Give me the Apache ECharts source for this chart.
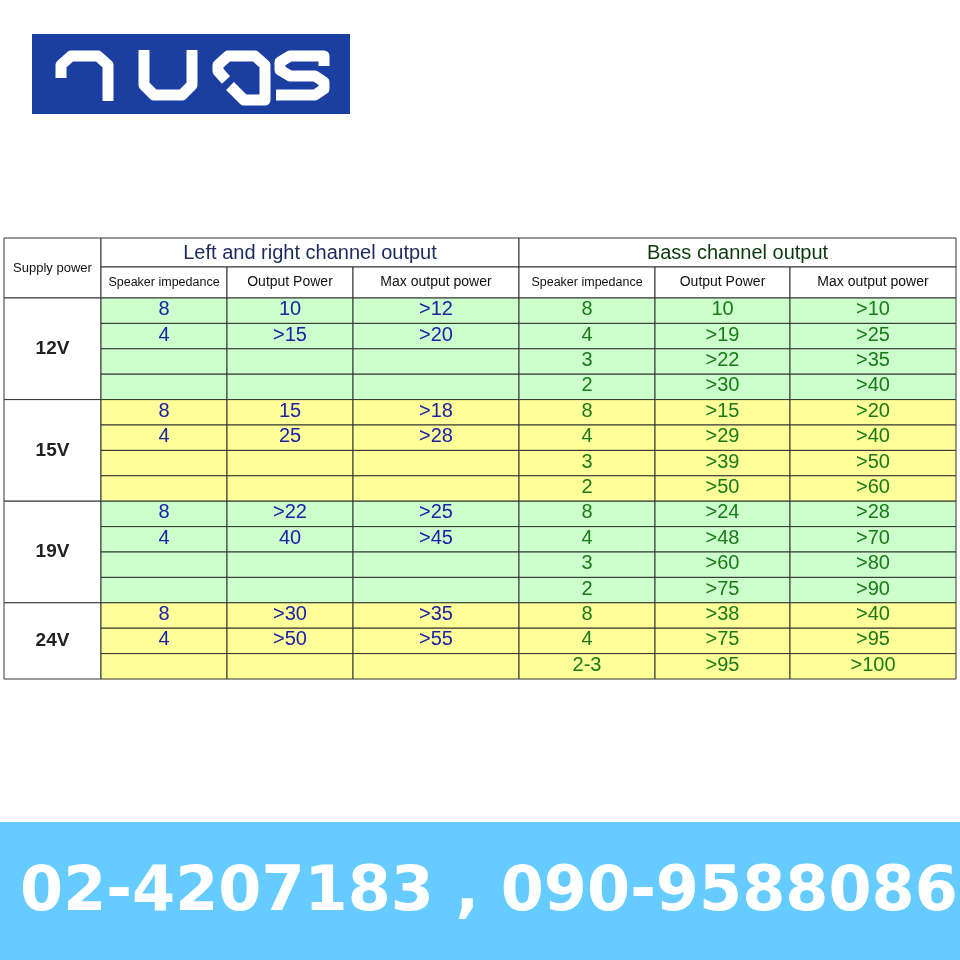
<!DOCTYPE html>
<html><head><meta charset="utf-8">
<script src="https://cdn.jsdelivr.net/npm/echarts@6/dist/echarts.min.js"></script>
<style>html,body{margin:0;padding:0;background:#fff}#c{width:960px;height:960px}</style>
</head><body><div id="c"></div>
<script>
var voltages = ['12V','15V','19V','24V'];
var groupRows = [4,4,4,3];
var lrImp = ['8','4','','', '8','4','','', '8','4','','', '8','4',''];
var lrOut = ['10','>15','','', '15','25','','', '>22','40','','', '>30','>50',''];
var lrMax = ['>12','>20','','', '>18','>28','','', '>25','>45','','', '>35','>55',''];
var bassImp = ['8','4','3','2', '8','4','3','2', '8','4','3','2', '8','4','2-3'];
var bassOut = ['10','>19','>22','>30', '>15','>29','>39','>50', '>24','>48','>60','>75', '>38','>75','>95'];
var bassMax = ['>10','>25','>35','>40', '>20','>40','>50','>60', '>28','>70','>80','>90', '>40','>95','>100'];
var subHeaders = ['Speaker impedance','Output Power','Max output power','Speaker impedance','Output Power','Max output power'];
var groupHeaders = ['Left and right channel output','Bass channel output'];
var phone = '02-4207183 , 090-9588086';

var colX = [4,101,227,353,519,655,790,956];
var yTop = 238, ySub = 267, yData = 298, rowH = 25.4;
var fills = ['#ccffcc','#ffff99'];
var g = [];
var ff = 'Liberation Sans, Arial, sans-serif';
function rect(x,y,w,h,fill){g.push({type:'rect',shape:{x:x,y:y,width:w,height:h},style:{fill:fill,stroke:'#333',lineWidth:1}});}
function txt(x,y,s,size,color,weight){g.push({type:'text',x:x,y:y,style:{text:s,font:(weight||'normal')+' '+size+'px '+ff,fill:color,align:'center',verticalAlign:'middle'}});}
rect(colX[0],yTop,colX[1]-colX[0],yData-yTop,'#fff');
txt((colX[0]+colX[1])/2,(yTop+yData)/2,'Supply power',13,'#111');
rect(colX[1],yTop,colX[4]-colX[1],ySub-yTop,'#fff');
rect(colX[4],yTop,colX[7]-colX[4],ySub-yTop,'#fff');
txt((colX[1]+colX[4])/2,(yTop+ySub)/2+1,groupHeaders[0],20,'#1a2a5a');
txt((colX[4]+colX[7])/2,(yTop+ySub)/2+1,groupHeaders[1],20,'#0a3a0a');
for(var i=0;i<6;i++){rect(colX[i+1],ySub,colX[i+2]-colX[i+1],yData-ySub,'#fff');txt((colX[i+1]+colX[i+2])/2,(ySub+yData)/2,subHeaders[i],i%3==0?12.5:14,'#111');}
var cols=[lrImp,lrOut,lrMax,bassImp,bassOut,bassMax];
var r=0;
for(var v=0;v<voltages.length;v++){
  var y0=yData+r*rowH, n=groupRows[v];
  rect(colX[0],y0,colX[1]-colX[0],n*rowH,'#fff');
  txt((colX[0]+colX[1])/2,y0+n*rowH/2,voltages[v],19,'#222','bold');
  for(var k=0;k<n;k++){
    var y=y0+k*rowH;
    for(var c=0;c<6;c++){
      rect(colX[c+1],y,colX[c+2]-colX[c+1],rowH,fills[v%2]);
      var val=cols[c][r+k];
      if(val) txt((colX[c+1]+colX[c+2])/2,y+rowH/2-1,val,20,c<3?'#1a22aa':'#1a7a1a');
    }
  }
  r+=n;
}
// logo
g.push({type:'rect',shape:{x:32,y:34,width:318,height:80},style:{fill:'#1a3fa0'}});
var st={stroke:'#fff',lineWidth:11,fill:null,lineJoin:'round'};
function pl(pts){g.push({type:'polyline',shape:{points:pts},style:st});}
pl([[61,78],[61,65],[71,56],[98,56],[108,65],[108,101]]);
pl([[144,50],[144,85],[154,95],[182,95],[192,85],[192,50]]);
pl([[226,80],[218,71],[218,65],[228,56],[255,56],[265,65],[265,100],[244,100],[230,86]]);
pl([[324,66],[324,56],[290,56],[280,62],[280,70],[290,76],[315,76],[324,82],[324,89],[315,95],[276,95]]);
// banner
g.push({type:'rect',shape:{x:0,y:822,width:960,height:138},style:{fill:'#66ccff'}});
g.push({type:'text',x:20,y:894,style:{text:phone,font:'bold 62px DejaVu Sans, sans-serif',fill:'#fff',align:'left',verticalAlign:'middle'}});
var chart=echarts.init(document.getElementById('c'));
chart.setOption({animation:false,graphic:g});
</script></body></html>
